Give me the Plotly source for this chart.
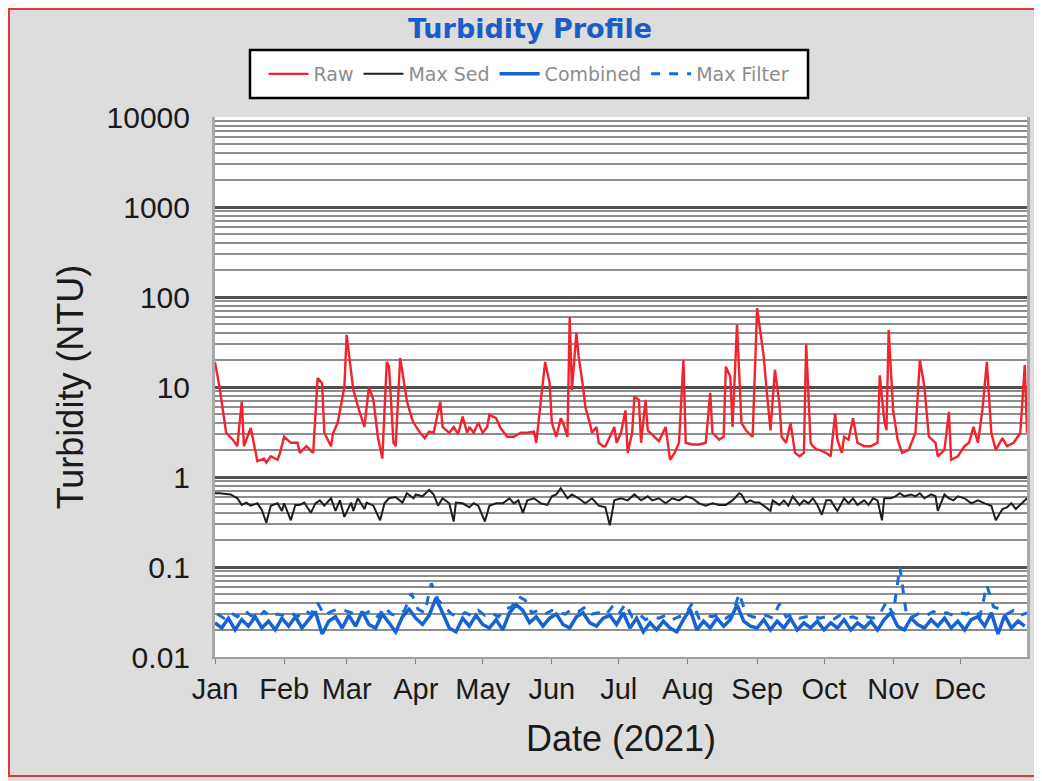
import pandas as pd
import plotly.graph_objects as go

# ---------------- data ----------------
raw_days = [0, 2, 5, 8, 10, 12, 13, 16, 18, 19, 22, 23, 25, 28, 29, 31, 34, 37, 38, 41, 44,
            46, 48, 49, 52, 53, 55, 58, 59, 62, 65, 67, 69, 71, 73, 75, 77, 78, 80, 81, 83,
            85, 86, 88, 89, 92, 94, 96, 98, 101, 102, 105, 107, 109, 111, 113, 114, 116, 118,
            120, 122, 123, 126, 128, 131, 134, 137, 140, 143, 144, 146, 148, 150, 151, 153,
            155, 156, 158, 159, 160, 162, 163, 165, 166, 168, 169, 171, 172, 174, 175, 177,
            179, 180, 182, 184, 185, 187, 188, 190, 191, 193, 194, 197, 199, 202, 204, 206,
            208, 210, 211, 214, 217, 220, 222, 223, 226, 228, 229, 231, 232, 234, 236, 238,
            241, 243, 244, 246, 247, 249, 251, 253, 254, 256, 258, 260, 262, 264, 265, 267,
            268, 270, 271, 274, 276, 278, 279, 281, 282, 284, 286, 288, 291, 294, 297, 298,
            300, 301, 302, 304, 306, 308, 311, 314, 316, 318, 320, 323, 324, 327, 329, 330,
            333, 336, 338, 340, 342, 344, 346, 348, 350, 353, 355, 358, 361, 363, 364]
raw_vals = [19, 10, 3.1, 2.6, 2.2, 6.9, 2.2, 3.5, 2.0, 1.5, 1.6, 1.45, 1.7, 1.55, 1.8, 2.8,
            2.4, 2.4, 1.85, 2.2, 1.85, 12.6, 11, 3.1, 2.2, 3.1, 4.0, 10, 38, 9.3, 5.1, 3.6, 10,
            7.2, 2.8, 1.6, 19, 17, 2.4, 2.2, 21, 10, 7.0, 4.7, 4.0, 3.1, 2.7, 3.2, 3.1, 6.9,
            3.6, 3.1, 3.6, 3.0, 4.7, 3.1, 3.6, 3.1, 4.0, 3.1, 3.6, 4.9, 4.5, 3.5, 2.8, 2.8, 3.1,
            3.1, 3.2, 2.4, 7.0, 19, 11, 4.0, 2.8, 4.5, 4.0, 2.8, 60, 9.3, 40, 21.7, 10, 6.0, 4.0,
            3.1, 3.6, 2.4, 2.2, 2.2, 2.8, 3.6, 2.4, 3.1, 5.5, 1.85, 3.1, 7.8, 7.2, 2.4, 7.2, 3.3,
            2.8, 2.5, 3.6, 1.55, 1.85, 2.4, 20, 2.4, 2.3, 2.3, 2.4, 8.6, 3.1, 2.6, 2.8, 16.8, 13,
            3.6, 49, 4.0, 3.3, 2.8, 75, 51, 21.7, 11, 3.3, 15.5, 6.6, 2.8, 2.4, 4.0, 1.85, 1.7,
            1.85, 30, 2.4, 2.2, 2.0, 2.0, 1.85, 1.7, 5.1, 2.6, 1.85, 2.8, 2.6, 4.5, 2.4, 2.2,
            2.2, 2.4, 13.5, 4.3, 3.3, 43, 5.5, 2.6, 1.85, 2.0, 3.1, 20, 10, 2.8, 2.4, 1.7, 2.0,
            5.3, 1.55, 1.7, 2.2, 2.4, 3.6, 2.4, 5.5, 19, 3.1, 2.0, 2.7, 2.2, 2.4, 3.1, 17.5, 3.1]

sed_days = [0, 2, 7, 10, 12, 14, 16, 19, 21, 23, 25, 28, 30, 31, 34, 36, 38, 40, 43, 45, 47,
            49, 52, 54, 56, 58, 61, 62, 64, 67, 68, 71, 74, 76, 78, 81, 84, 86, 89, 90, 93, 96,
            98, 100, 102, 105, 107, 108, 111, 114, 116, 118, 121, 123, 126, 129, 132, 134, 136,
            138, 140, 143, 146, 149, 151, 153, 155, 158, 160, 163, 166, 169, 172, 175, 177, 179,
            182, 185, 188, 191, 194, 196, 199, 202, 205, 208, 211, 214, 217, 220, 223, 226, 229,
            232, 235, 236, 238, 240, 242, 244, 247, 249, 250, 253, 255, 257, 259, 262, 264, 266,
            268, 270, 272, 274, 276, 279, 282, 284, 286, 288, 291, 293, 295, 297, 299, 300, 303,
            305, 307, 309, 312, 314, 316, 318, 321, 323, 324, 327, 329, 331, 333, 336, 339, 342,
            345, 348, 350, 353, 355, 357, 359, 362, 364]
sed_vals = [0.66, 0.66, 0.64, 0.58, 0.49, 0.52, 0.48, 0.51, 0.43, 0.31, 0.48, 0.51, 0.42, 0.51,
            0.33, 0.49, 0.49, 0.52, 0.40, 0.51, 0.55, 0.48, 0.58, 0.42, 0.55, 0.36, 0.52, 0.42,
            0.58, 0.44, 0.52, 0.48, 0.33, 0.51, 0.58, 0.60, 0.52, 0.66, 0.58, 0.64, 0.61, 0.72,
            0.64, 0.48, 0.58, 0.51, 0.32, 0.52, 0.51, 0.46, 0.51, 0.48, 0.32, 0.48, 0.51, 0.51,
            0.58, 0.51, 0.55, 0.40, 0.55, 0.58, 0.51, 0.49, 0.61, 0.64, 0.75, 0.58, 0.64, 0.58,
            0.51, 0.58, 0.48, 0.46, 0.29, 0.55, 0.58, 0.55, 0.64, 0.55, 0.61, 0.55, 0.58, 0.51,
            0.58, 0.55, 0.61, 0.58, 0.51, 0.48, 0.51, 0.49, 0.49, 0.55, 0.66, 0.64, 0.52, 0.55,
            0.52, 0.52, 0.46, 0.42, 0.55, 0.49, 0.55, 0.48, 0.61, 0.49, 0.55, 0.51, 0.58, 0.49,
            0.38, 0.55, 0.55, 0.42, 0.58, 0.51, 0.58, 0.49, 0.55, 0.49, 0.58, 0.55, 0.33, 0.58,
            0.58, 0.61, 0.66, 0.61, 0.64, 0.61, 0.66, 0.58, 0.64, 0.61, 0.42, 0.64, 0.58, 0.55,
            0.61, 0.58, 0.51, 0.55, 0.51, 0.48, 0.33, 0.44, 0.46, 0.51, 0.44, 0.52, 0.58]

comb_days = list(range(0, 364, 3))
comb_vals = [0.024, 0.021, 0.027, 0.020, 0.026, 0.022, 0.028, 0.021, 0.025, 0.020, 0.027,
             0.022, 0.028, 0.021, 0.026, 0.032, 0.018, 0.025, 0.028, 0.021,
             0.029, 0.022, 0.032, 0.023, 0.021, 0.030, 0.024, 0.019, 0.028, 0.034,
             0.027, 0.023, 0.029, 0.045, 0.031, 0.021, 0.019, 0.027, 0.022, 0.029,
             0.023, 0.021, 0.026, 0.020, 0.031, 0.038, 0.033, 0.024, 0.028, 0.022,
             0.027, 0.030, 0.023, 0.021, 0.028, 0.031, 0.024, 0.022, 0.027, 0.029,
             0.023, 0.031, 0.021, 0.027, 0.019, 0.024, 0.020, 0.025, 0.021, 0.019,
             0.026, 0.034, 0.020, 0.025, 0.021, 0.027, 0.022, 0.026, 0.038, 0.025,
             0.022, 0.021, 0.026, 0.020, 0.025, 0.021, 0.027, 0.020, 0.024, 0.021,
             0.025, 0.020, 0.024, 0.021, 0.026, 0.020, 0.024, 0.021, 0.025, 0.020,
             0.026, 0.031, 0.022, 0.020, 0.027, 0.023, 0.021, 0.026, 0.022, 0.027,
             0.021, 0.025, 0.020, 0.026, 0.028, 0.022, 0.031, 0.018, 0.029, 0.021, 0.025, 0.022]

filt_days = list(range(1, 365, 3))
filt_vals = [0.030, 0.027, 0.031, 0.028, 0.033, 0.029, 0.027, 0.032, 0.028, 0.030, 0.029,
             0.031, 0.028, 0.033, 0.030, 0.040, 0.029, 0.032, 0.034, 0.033,
             0.031, 0.029, 0.030, 0.033, 0.028, 0.036, 0.030, 0.029, 0.033, 0.051,
             0.034, 0.031, 0.066, 0.043, 0.036, 0.030, 0.028, 0.031, 0.029, 0.033,
             0.029, 0.031, 0.028, 0.034, 0.036, 0.047, 0.043, 0.031, 0.033, 0.030,
             0.033, 0.031, 0.030, 0.034, 0.032, 0.036, 0.030, 0.031, 0.029, 0.036,
             0.030, 0.039, 0.028, 0.030, 0.026, 0.028, 0.027, 0.029, 0.026, 0.028,
             0.030, 0.040, 0.027, 0.029, 0.028, 0.030, 0.027, 0.030, 0.051, 0.030,
             0.028, 0.027, 0.029, 0.027, 0.039, 0.028, 0.030, 0.027, 0.028, 0.029,
             0.027, 0.028, 0.026, 0.029, 0.027, 0.028, 0.026, 0.028, 0.027, 0.030,
             0.041, 0.030, 0.100, 0.029, 0.028, 0.031, 0.029, 0.032, 0.030, 0.031,
             0.029, 0.031, 0.030, 0.033, 0.029, 0.063, 0.036, 0.034, 0.030, 0.033, 0.029, 0.031]

month_labels = ["Jan", "Feb", "Mar", "Apr", "May", "Jun",
                "Jul", "Aug", "Sep", "Oct", "Nov", "Dec"]
y_tick_vals = [0.01, 0.1, 1, 10, 100, 1000, 10000]
y_tick_text = ["0.01", "0.1", "1", "10", "100", "1000", "10000"]

# ---------------- build ----------------
base = pd.Timestamp("2021-01-01")


def to_dates(days):
    return [base + pd.Timedelta(days=int(d)) for d in days]


month_starts = list(pd.date_range("2021-01-01", periods=12, freq="MS"))
minor_vals = [m * 10.0 ** e for e in range(-2, 4) for m in range(2, 10)]

fig = go.Figure()
fig.add_trace(go.Scatter(x=to_dates(raw_days), y=raw_vals, name="Raw", mode="lines",
                         line=dict(color="#f2232d", width=2.4)))
fig.add_trace(go.Scatter(x=to_dates(sed_days), y=sed_vals, name="Max Sed", mode="lines",
                         line=dict(color="#1e1e1e", width=2)))
fig.add_trace(go.Scatter(x=to_dates(comb_days), y=comb_vals, name="Combined", mode="lines",
                         line=dict(color="#1563d2", width=3.5)))
fig.add_trace(go.Scatter(x=to_dates(filt_days), y=filt_vals, name="Max Filter", mode="lines",
                         line=dict(color="#1a6ad8", width=3, dash="dash")))

fig.update_layout(
    width=1042, height=781,
    margin=dict(l=207, r=23, t=109, b=132),
    paper_bgcolor="#dddddd",
    plot_bgcolor="#ffffff",
    font=dict(family="Liberation Sans, Arial, sans-serif", color="#1a1a1a"),
    title=dict(text="<b>Turbidity Profile</b>", x=0.501, xanchor="center",
               y=0.974, yanchor="middle",
               font=dict(family="DejaVu Sans, Verdana, sans-serif", size=27, color="#1b5cc6")),
    showlegend=True,
    legend=dict(orientation="h", x=0.3867, xanchor="center", y=1.0796, yanchor="middle",
                bgcolor="rgba(0,0,0,0)", borderwidth=0,
                font=dict(family="DejaVu Sans, Verdana, sans-serif", size=19, color="#8c8c8c"),
                itemwidth=40),
    xaxis=dict(
        type="date",
        range=[base, base + pd.Timedelta(days=364)],
        tickmode="array", tickvals=month_starts, ticktext=month_labels,
        showgrid=False, zeroline=False,
        showline=True, linecolor="#a0a0a0", linewidth=2,
        ticks="outside", ticklen=5, tickcolor="#808080",
        tickfont=dict(size=29, color="#1a1a1a"),
        title=dict(text="Date (2021)", font=dict(size=36, color="#1a1a1a"), standoff=22),
    ),
    yaxis=dict(
        type="log", range=[-2, 4],
        tickmode="array", tickvals=y_tick_vals, ticktext=y_tick_text,
        showgrid=True, gridcolor="#505050", gridwidth=2.5,
        minor=dict(tickmode="array", tickvals=minor_vals, showgrid=True,
                   gridcolor="#8e8e8e", gridwidth=1.5, ticks=""),
        zeroline=False,
        showline=True, linecolor="#a8a8a8", linewidth=3, mirror=True,
        ticks="", ticklabelstandoff=16,
        tickfont=dict(size=30, color="#1a1a1a"),
        title=dict(text="Turbidity (NTU)", font=dict(size=36, color="#1a1a1a"), standoff=12),
    ),
    shapes=[
        # red page frame (left, top and bottom edges only)
        dict(type="path", xref="paper", yref="paper",
             path="M 1.5,1.2 L -0.2537,1.2 L -0.2537,-0.2204 L 1.5,-0.2204",
             line=dict(color="#e8343c", width=2), layer="below"),
        # legend box
        dict(type="rect", xref="paper", yref="paper",
             x0=0.0431, x1=0.7303, y0=1.0352, y1=1.1241,
             line=dict(color="#000000", width=2.5), fillcolor="#ffffff", layer="below"),
    ],
)

fig.write_html("out.html")
